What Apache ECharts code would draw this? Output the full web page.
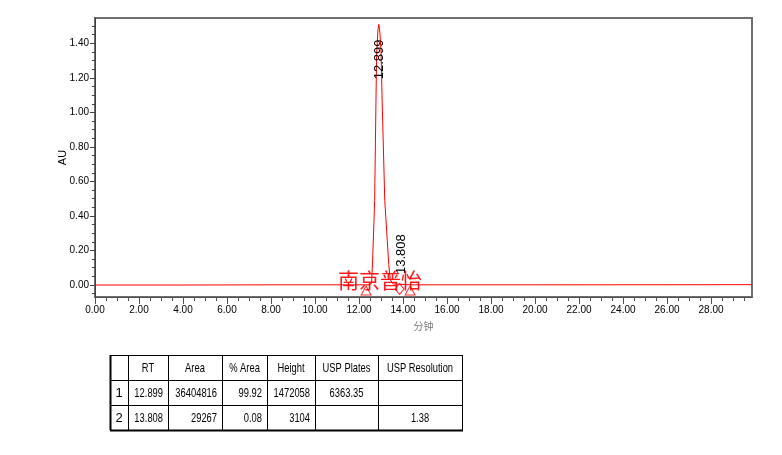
<!DOCTYPE html>
<html>
<head>
<meta charset="utf-8">
<script src="https://cdn.jsdelivr.net/npm/echarts@6/dist/echarts.min.js"></script>
<style>
html,body{margin:0;padding:0;background:#fff;}
#chart{width:782px;height:455px;}
</style>
</head>
<body>
<div id="chart"></div>
<script>
// ---- chromatogram trace (minutes, AU) ----
var timeMin = [0.00, 4.00, 8.00, 12.00, 12.45, 12.57, 12.62, 12.71, 12.77, 12.80, 12.86, 12.90, 12.95, 13.00, 13.05, 13.17, 13.35, 13.42, 13.55, 13.808, 14.10, 14.40, 20.00, 29.86];
var signalAU = [0.000, 0.000, 0.001, 0.001, 0.001, 0.010, 0.150, 0.490, 1.070, 1.340, 1.480, 1.510, 1.460, 1.350, 1.070, 0.490, 0.120, 0.030, 0.006, 0.005, 0.002, 0.001, 0.001, 0.002];

// ---- peak table ----
var peakNo = ['1', '2'];
var peakRT = ['12.899', '13.808'];
var peakArea = ['36404816', '29267'];
var peakPctArea = ['99.92', '0.08'];
var peakHeight = ['1472058', '3104'];
var uspPlates = ['6363.35', ''];
var uspResolution = ['', '1.38'];
var tableHeaders = ['', 'RT', 'Area', '% Area', 'Height', 'USP Plates', 'USP Resolution'];

// ---- peak labels (RT, apex AU) ----
var labelRT = [12.899, 13.808];
var labelApex = [1.51, 0.005];

// ---- integration markers (minutes) ----
var triangleTimes = [12.32, 14.32];
var diamondTimes = [13.84];

// ---- axes ----
var xMin = 0, xMax = 29.86;
var xMajorTicks = [0, 2, 4, 6, 8, 10, 12, 14, 16, 18, 20, 22, 24, 26, 28];
var xMinorTicks = [0.5, 1, 1.5, 2.5, 3, 3.5, 4.5, 5, 5.5, 6.5, 7, 7.5, 8.5, 9, 9.5, 10.5, 11, 11.5, 12.5, 13, 13.5, 14.5, 15, 15.5, 16.5, 17, 17.5, 18.5, 19, 19.5, 20.5, 21, 21.5, 22.5, 23, 23.5, 24.5, 25, 25.5, 26.5, 27, 27.5, 28.5, 29, 29.5];
var yMin = -0.0695, yMax = 1.547;
var yMajorTicks = [0, 0.2, 0.4, 0.6, 0.8, 1.0, 1.2, 1.4];
var yMinorTicks = [-0.05, 0.05, 0.1, 0.15, 0.25, 0.3, 0.35, 0.45, 0.5, 0.55, 0.65, 0.7, 0.75, 0.85, 0.9, 0.95, 1.05, 1.1, 1.15, 1.25, 1.3, 1.35, 1.45, 1.5];

var SANS = '"Liberation Sans", Arial, sans-serif';

var chart = echarts.init(document.getElementById('chart'), null, {renderer: 'canvas'});

var trace = timeMin.map(function (t, i) { return [t, signalAU[i]]; });
var fmt2 = function (v) { return v.toFixed(2); };

var option = {
  animation: false,
  backgroundColor: '#fff',
  grid: {left: 95, right: 30, top: 18, bottom: 158, show: true, borderColor: '#6e6e6e', borderWidth: 2, backgroundColor: 'transparent'},
  xAxis: [{
    type: 'value', min: xMin, max: xMax,
    name: '分钟', nameLocation: 'middle', nameGap: 24, nameMoveOverlap: false,
    nameTextStyle: {color: '#7a7a7a', fontSize: 10, fontFamily: '"Noto Sans CJK SC", sans-serif'},
    axisLine: {show: true, onZero: false, lineStyle: {color: '#505050', width: 1}},
    axisTick: {show: true, length: 7, customValues: xMajorTicks, lineStyle: {color: '#505050'}},
    splitLine: {show: false},
    axisLabel: {margin: 8, color: '#000', fontSize: 10, fontFamily: SANS, customValues: xMajorTicks, formatter: fmt2}
  }, {
    type: 'value', min: xMin, max: xMax, position: 'bottom',
    axisLine: {show: false, onZero: false},
    axisTick: {show: true, length: 4, customValues: xMinorTicks, lineStyle: {color: '#505050'}},
    axisLabel: {show: false},
    splitLine: {show: false}
  }],
  yAxis: [{
    type: 'value', min: yMin, max: yMax,
    name: 'AU', nameLocation: 'middle', nameGap: 27, nameMoveOverlap: false,
    nameTextStyle: {color: '#000', fontSize: 11, fontFamily: SANS},
    axisLine: {show: true, onZero: false, lineStyle: {color: '#404040', width: 1}},
    axisTick: {show: true, length: 5, customValues: yMajorTicks, lineStyle: {color: '#404040'}},
    axisLabel: {margin: 6, color: '#000', fontSize: 10, fontFamily: SANS, customValues: yMajorTicks, formatter: fmt2},
    splitLine: {show: false}
  }, {
    type: 'value', min: yMin, max: yMax, position: 'left',
    axisLine: {show: false, onZero: false},
    axisTick: {show: true, length: 3, customValues: yMinorTicks, lineStyle: {color: '#404040'}},
    axisLabel: {show: false},
    splitLine: {show: false}
  }],
  series: [{
    type: 'line', data: trace, showSymbol: false, symbol: 'none',
    lineStyle: {color: '#ff0000', width: 1}, z: 3, silent: true
  }, {
    type: 'scatter', data: triangleTimes.map(function (t) { return [t, 0]; }),
    symbol: 'triangle', symbolSize: [10, 9], symbolOffset: [0, 5.5],
    itemStyle: {color: 'rgba(255,255,255,0)', borderColor: '#ff0000', borderWidth: 1}, z: 4, silent: true
  }, {
    type: 'scatter', data: diamondTimes.map(function (t) { return [t, 0]; }),
    symbol: 'diamond', symbolSize: [9, 11], symbolOffset: [0, 4],
    itemStyle: {color: 'rgba(255,255,255,0)', borderColor: '#ff0000', borderWidth: 1}, z: 4, silent: true
  }]
};
chart.setOption(option);

// ---- overlays: peak labels, watermark, result table ----
var g = [];
function txt(s, x, y, align, font, fill, rot, sx) {
  var el = {type: 'text', x: x, y: y, z: 10,
    style: {text: s, font: font, fill: fill || '#000', align: align, textAlign: align,
      verticalAlign: 'middle', textVerticalAlign: 'middle'}};
  if (rot) { el.rotation = rot; }
  if (sx) { el.scaleX = sx; }
  return el;
}
var labelOffsets = [[1, 35], [2.5, -30]];
labelRT.forEach(function (rt, i) {
  var p = chart.convertToPixel({xAxisIndex: 0, yAxisIndex: 0}, [rt, labelApex[i]]);
  g.push(txt(rt.toFixed(3), p[0] + labelOffsets[i][0], p[1] + labelOffsets[i][1], 'center',
    '13px ' + SANS, '#000', Math.PI / 2));
});
g.push(txt('南京普怡', 338, 280, 'left', '21px "Noto Sans CJK SC", sans-serif', 'rgba(255,0,0,0.9)'));

// table
var colX = [110, 128, 168, 222, 267, 315, 378, 462];
var rowY = [355, 380, 405, 430];
var colAlign = ['center', 'right', 'right', 'right', 'right', 'center', 'center'];
var rows = [tableHeaders];
for (var r = 0; r < peakNo.length; r++) {
  rows.push([peakNo[r], peakRT[r], peakArea[r], peakPctArea[r], peakHeight[r], uspPlates[r], uspResolution[r]]);
}
var TFONT = '13px ' + SANS;
rows.forEach(function (row, ri) {
  var cy = (rowY[ri] + rowY[ri + 1]) / 2;
  row.forEach(function (s, ci) {
    if (!s) return;
    var align = ri === 0 ? 'center' : colAlign[ci];
    var x = align === 'center' ? (colX[ci] + colX[ci + 1]) / 2 : colX[ci + 1] - 5;
    g.push(txt(s, x, cy + 0.5, align, TFONT, '#000', 0, ci === 0 ? 1 : 0.72));
  });
});
colX.forEach(function (x, i) {
  g.push({type: 'line', z: 11, shape: {x1: x + 0.5, y1: rowY[0], x2: x + 0.5, y2: rowY[rowY.length - 1]},
    style: {stroke: '#000', lineWidth: i === 0 ? 2 : 1}});
});
rowY.forEach(function (y, i) {
  g.push({type: 'line', z: 11, shape: {x1: colX[0], y1: y + 0.5, x2: colX[colX.length - 1] + 1, y2: y + 0.5},
    style: {stroke: '#000', lineWidth: i === rowY.length - 1 ? 2 : 1}});
});
chart.setOption({graphic: {elements: g}});
</script>
</body>
</html>
